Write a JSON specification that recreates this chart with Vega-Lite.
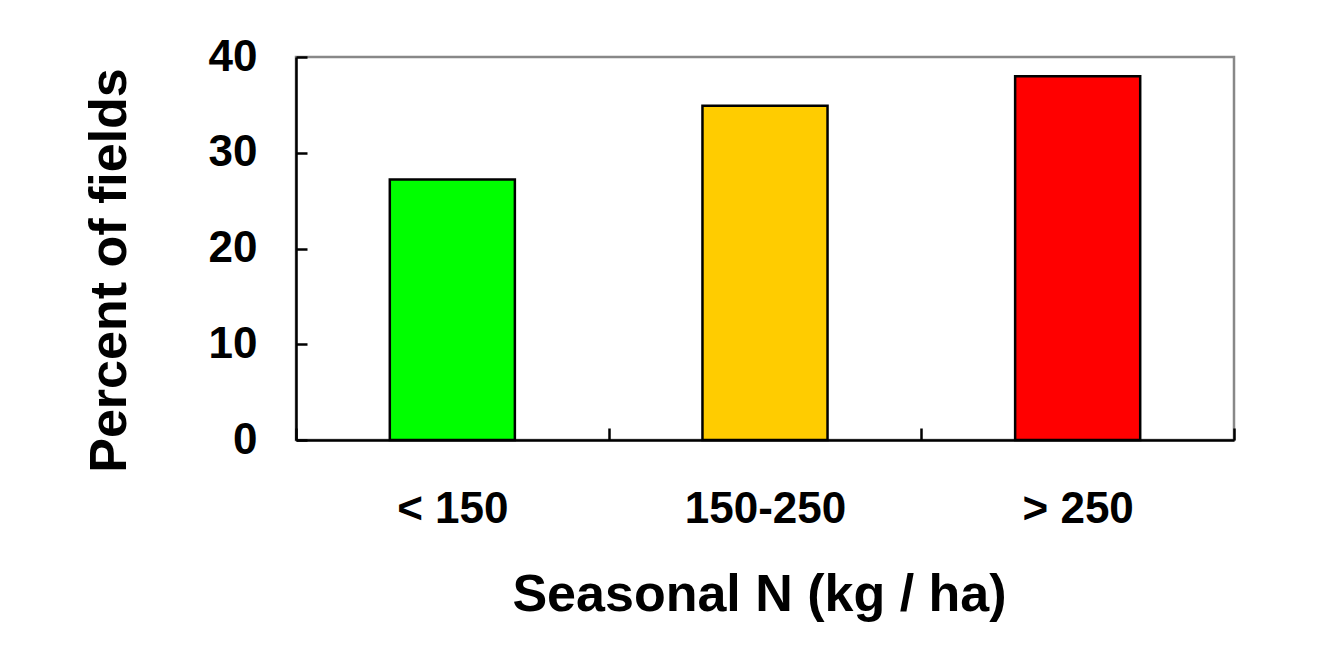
{
  "$schema": "https://vega.github.io/schema/vega-lite/v6.json",
  "autosize": "none",
  "width": 938,
  "height": 383,
  "padding": {"left": 296, "top": 57, "right": 92, "bottom": 211},
  "background": "white",
  "config": {
    "font": "Liberation Sans",
    "view": {"stroke": "#888888", "strokeWidth": 2.5}
  },
  "data": {
    "values": [
      {"n": "< 150", "pct": 27.2},
      {"n": "150-250", "pct": 34.9},
      {"n": "> 250", "pct": 38.0}
    ]
  },
  "mark": {"type": "bar", "width": {"band": 0.4}, "stroke": "black", "strokeWidth": 2.5},
  "encoding": {
    "x": {
      "field": "n",
      "type": "nominal",
      "sort": null,
      "scale": {"paddingInner": 0, "paddingOuter": 0},
      "axis": {
        "title": "Seasonal N (kg / ha)",
        "labelAngle": 0,
        "labelFontSize": 44,
        "labelFontWeight": "bold",
        "labelColor": "black",
        "labelBaseline": "middle",
        "labelFlush": false,
        "tickBand": "extent",
        "tickSize": -12,
        "tickColor": "black",
        "tickWidth": 2.5,
        "domainColor": "black",
        "domainWidth": 2.5,
        "labelPadding": 81,
        "titleFontSize": 52,
        "titleFontWeight": "bold",
        "titleColor": "black",
        "titleBaseline": "alphabetic",
        "titleX": 463,
        "titleY": 170
      }
    },
    "y": {
      "field": "pct",
      "type": "quantitative",
      "scale": {"domain": [0, 40]},
      "axis": {
        "values": [0, 10, 20, 30, 40],
        "title": "Percent of fields",
        "grid": false,
        "labelFontSize": 44,
        "labelFontWeight": "bold",
        "labelColor": "black",
        "labelFlush": false,
        "tickSize": -11,
        "tickWidth": 2.5,
        "tickColor": "black",
        "domainColor": "black",
        "domainWidth": 2.5,
        "labelPadding": 50,
        "titleFontSize": 52,
        "titleFontWeight": "bold",
        "titleColor": "black",
        "titleAngle": 270,
        "titleBaseline": "alphabetic",
        "titleX": -171,
        "titleY": 213
      }
    },
    "color": {
      "field": "n",
      "type": "nominal",
      "sort": null,
      "scale": {"domain": ["< 150", "150-250", "> 250"], "range": ["#00ff00", "#ffcc00", "#ff0000"]},
      "legend": null
    }
  }
}
